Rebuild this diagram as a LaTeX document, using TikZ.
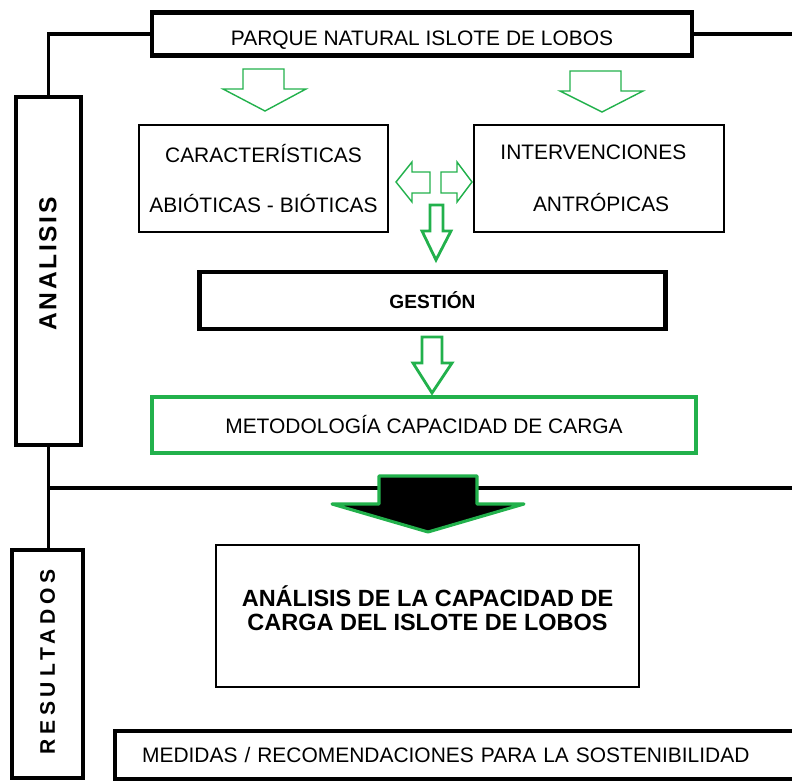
\documentclass[tikz,border=0pt]{standalone}
\usepackage{fontspec}
\setmainfont{Liberation Sans}
\newfontfamily\spacedfont[LetterSpace=11]{Liberation Sans}
\newfontfamily\widespacedfont[LetterSpace=23]{Liberation Sans}
\usetikzlibrary{positioning}
\definecolor{leafgreen}{RGB}{34,177,76}

\begin{document}
\begin{tikzpicture}[x=0.025cm, y=-0.025cm,
	every node/.style={font=\fontsize{14.9}{17.8}\selectfont},
	thickbox/.style={draw, line width=3pt, inner sep=0pt},
	thinbox/.style={draw, line width=1.1pt, inner sep=0pt},
	greenbox/.style={draw=leafgreen, line width=2.8pt, inner sep=0pt},
	link/.style={line width=2.8pt},
	hollow/.style={draw=leafgreen, line width=1pt},
	hollowthick/.style={draw=leafgreen, line width=2pt},
	bigarrow/.style={draw=leafgreen, fill=black, line width=2.2pt, line join=round}]
	\useasboundingbox (0,0) rectangle (792,781);
	\clip (0,0) rectangle (792,781);

	% boxes
	\node[thickbox, minimum width=13.5cm, minimum height=1.07cm, text height=16.9pt, text depth=0pt] (parque) at (422,34) {PARQUE NATURAL ISLOTE DE LOBOS};
	\node[thickbox, minimum width=1.625cm, minimum height=8.7cm] (analisis) at (48.5,271) {};
	\node[rotate=90, font=\fontsize{17.5}{20}\spacedfont\bfseries] (analisisLabel) at (48,264) {ANALISIS};
	\node[thinbox, minimum width=6.225cm, minimum height=2.675cm, align=center] (caract) at (263.5,178.5) {CARACTERÍSTICAS\\[18.2pt]ABIÓTICAS - BIÓTICAS};
	\node[thinbox, minimum width=6.25cm, minimum height=2.675cm, align=center] (interv) at (599,178.5) {INTERVENCIONES\hspace*{8pt}\\[18.8pt]\hspace*{3pt}ANTRÓPICAS};
	\node[thickbox, minimum width=11.65cm, minimum height=1.425cm, font=\fontsize{13.6}{16}\selectfont\bfseries] (gestion) at (432.5,300.5) {GESTIÓN};
	\node[greenbox, minimum width=13.6cm, minimum height=1.4cm] (metodo) at (424,425) {METODOLOGÍA CAPACIDAD DE CARGA};
	\node[thinbox, minimum width=10.575cm, minimum height=3.55cm, align=center, font=\fontsize{16.7}{17.5}\selectfont\bfseries] (resultado) at (427.5,616) {ANÁLISIS DE LA CAPACIDAD DE\\CARGA DEL ISLOTE DE LOBOS\rule[-11pt]{0pt}{11pt}};
	\node[thickbox, minimum width=1.775cm, minimum height=5.7cm] (resultados) at (47.5,664) {};
	\node[rotate=90, font=\fontsize{15}{18}\widespacedfont\bfseries] (resultadosLabel) at (47.5,662) {RESULTADOS};
	\node[thickbox, anchor=west, minimum height=1.2cm, text width=16.5cm, inner xsep=0.675cm, align=left] (medidas) at (113,755) {MEDIDAS / RECOMENDACIONES PARA LA SOSTENIBILIDAD};

	% frame lines
	\coordinate (rimTop) at (800,34);
	\coordinate (rimMid) at (800,488);
	\draw[link] (parque.west) -| (analisis.north);
	\draw[link] (parque.east) -- (rimTop);
	\draw[link] (analisis.south) -- (analisis.south |- resultados.north);
	\draw[link] (analisis.south |- rimMid) -- (rimMid);

	% block arrows
	\draw[hollow] (243,69) -- (284,69) -- (284,89) -- (306,89) -- (265,111) -- (223,89) -- (243,89) -- cycle;
	\draw[hollow] (570,71) -- (621,71) -- (621,91) -- (643,91) -- (602,112) -- (560,91) -- (570,91) -- cycle;
	\draw[hollow] (430,172) -- (412,172) -- (412,162) -- (396,182) -- (412,202) -- (412,193) -- (430,193) -- cycle;
	\draw[hollow] (441,172) -- (457,172) -- (457,162) -- (472,182) -- (457,202) -- (457,193) -- (441,193) -- cycle;
	\draw[hollowthick] (430,205) -- (443,205) -- (443,231) -- (451,231) -- (436,260) -- (422,231) -- (430,231) -- cycle;
	\draw[hollowthick] (422,337) -- (442,337) -- (442,363) -- (452,363) -- (432,393) -- (413,363) -- (422,363) -- cycle;
	\draw[bigarrow] (379,476) -- (477,476) -- (477,504) -- (524,504) -- (428,532) -- (332,504) -- (379,504) -- cycle;
\end{tikzpicture}
\end{document}
